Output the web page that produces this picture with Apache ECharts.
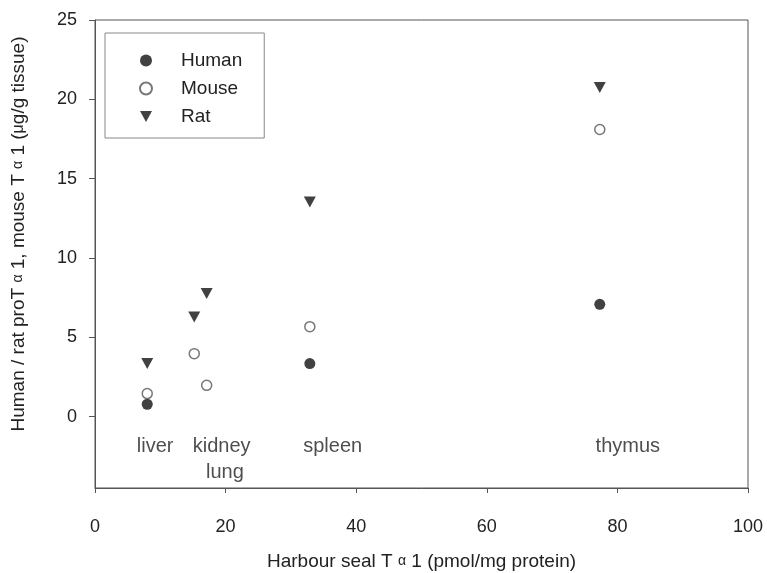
<!DOCTYPE html>
<html>
<head>
<meta charset="utf-8">
<script src="https://cdn.jsdelivr.net/npm/echarts@6/dist/echarts.min.js"></script>
<style>
  html, body { margin: 0; padding: 0; background: #fff; }
  #chart { width: 767px; height: 573px; }
</style>
</head>
<body>
<div id="chart"></div>
<script>
// Tissue levels: harbour seal Tα1 (x) against human/rat proTα1 and mouse Tα1 (y)
const xTicks = [0, 20, 40, 60, 80, 100];
const yTicks = [0, 5, 10, 15, 20, 25];

const humanX = [8.0, 32.9, 77.3];
const humanY = [0.78, 3.34, 7.08];

const mouseX = [8.0, 15.2, 17.1, 32.9, 77.3];
const mouseY = [1.45, 3.97, 1.97, 5.67, 18.1];

const ratX = [8.0, 15.2, 17.1, 32.9, 77.3];
const ratY = [3.34, 6.28, 7.76, 13.53, 20.74];

// Tissue names written under each group
const tissueNames = ['liver', 'kidney', 'lung', 'spleen', 'thymus'];
const tissueX = [9.2, 19.4, 19.9, 36.4, 81.6];
const tissueY = [-1.87, -1.87, -3.5, -1.87, -1.87];

const pairs = (xs, ys) => xs.map((x, i) => [x, ys[i]]);

const FONT = '"Liberation Sans", Arial, sans-serif';
const INK = '#222';
const AXIS = '#555';
const downTriangle = 'path://M0,0 L10,0 L5,9 Z';

const chart = echarts.init(document.getElementById('chart'));
chart.setOption({
  animation: false,
  backgroundColor: '#fff',
  textStyle: { fontFamily: FONT, color: INK },
  grid: {
    left: 95, right: 19, top: 20, bottom: 85,
    outerBoundsMode: 'none',
    containLabel: false,
    show: true, borderColor: AXIS, borderWidth: 1
  },
  legend: {
    data: ['Human', 'Mouse', 'Rat'],
    orient: 'vertical',
    left: 105, top: 33,
    padding: [18, 22, 12, 34],
    itemWidth: 12, itemHeight: 12,
    itemGap: 9,
    borderColor: '#888', borderWidth: 1,
    textStyle: { fontSize: 19, lineHeight: 18, color: INK, padding: [0, 0, 0, 24], fontFamily: FONT }
  },
  xAxis: {
    type: 'value', min: 0, max: 100, interval: 20,
    name: 'Harbour seal T {a|α} 1 (pmol/mg protein)',
    nameLocation: 'middle', nameGap: 64,
    nameTextStyle: {
      fontSize: 19, color: INK, fontFamily: FONT,
      rich: { a: { fontSize: 14, color: INK, fontFamily: FONT } }
    },
    axisLine: { show: true, onZero: false, lineStyle: { color: AXIS } },
    axisTick: { show: true, inside: false, length: 5, lineStyle: { color: AXIS } },
    axisLabel: { fontSize: 18, color: INK, margin: 30, fontFamily: FONT },
    splitLine: { show: false }
  },
  yAxis: {
    type: 'value', min: -4.5, max: 25,
    name: 'Human / rat proT {a|α} 1, mouse T {a|α} 1 ({b|μ}g/g tissue)',
    nameLocation: 'middle', nameGap: 67, nameRotate: 90,
    nameTextStyle: {
      fontSize: 19, color: INK, fontFamily: FONT,
      padding: [0, 0, 0, 40],
      rich: {
        a: { fontSize: 14, color: INK, fontFamily: FONT },
        b: { fontSize: 16, color: INK, fontFamily: FONT }
      }
    },
    axisLine: { show: true, onZero: false, lineStyle: { color: AXIS } },
    axisTick: { show: true, inside: false, length: 6, customValues: yTicks, lineStyle: { color: AXIS } },
    axisLabel: { fontSize: 18, color: INK, margin: 18, customValues: yTicks, fontFamily: FONT },
    splitLine: { show: false }
  },
  series: [
    {
      name: 'Human', type: 'scatter',
      data: pairs(humanX, humanY),
      symbol: 'circle', symbolSize: 11,
      itemStyle: { color: '#111', borderColor: '#111', borderWidth: 0 }
    },
    {
      name: 'Mouse', type: 'scatter',
      data: pairs(mouseX, mouseY),
      symbol: 'circle', symbolSize: 10,
      itemStyle: { color: '#fff', borderColor: '#555', borderWidth: 1.5 }
    },
    {
      name: 'Rat', type: 'scatter',
      data: pairs(ratX, ratY),
      symbol: downTriangle, symbolSize: [12, 11],
      itemStyle: { color: '#111' }
    },
    {
      name: 'tissues', type: 'scatter',
      data: tissueNames.map((t, i) => [tissueX[i], tissueY[i], t]),
      symbolSize: 0,
      silent: true,
      label: {
        show: true, position: 'inside',
        formatter: p => p.value[2],
        fontSize: 20, color: INK, fontFamily: FONT
      }
    }
  ]
});
</script>
</body>
</html>
